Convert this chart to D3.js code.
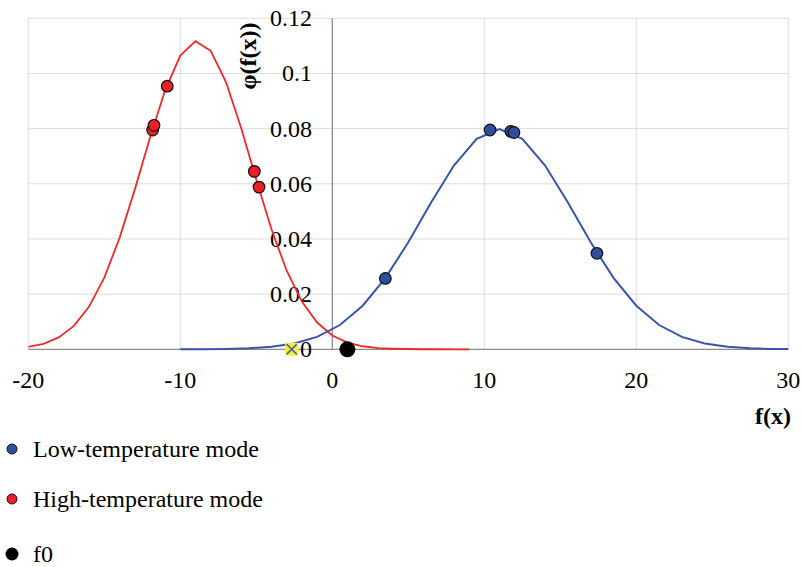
<!DOCTYPE html>
<html><head><meta charset="utf-8">
<script src="https://cdn.jsdelivr.net/npm/d3@7"></script>
<style>body{margin:0;background:#fff}svg{display:block}text{font-family:"Liberation Serif","Times New Roman",serif;fill:#000}</style>
</head><body><div id="chart"></div>
<script>
// ---- data ----
const xTicks = [-20, -10, 0, 10, 20, 30];
const yTicks = [0, 0.02, 0.04, 0.06, 0.08, 0.1, 0.12];
const yTickLabels = ["0", "0.02", "0.04", "0.06", "0.08", "0.1", "0.12"];

const highCurveX = [-20,-19,-18,-17,-16,-15,-14,-13,-12,-11,-10,-9,-8,-7,-6,-5,-4,-3,-2,-1,0,1,2,3,4,5,6,7,8,9];
const highCurveY = [0.0009,0.0020,0.0043,0.0085,0.0155,0.0260,0.0403,0.0578,0.0766,0.0939,0.1065,0.1117,0.1082,0.0970,0.0803,0.0615,0.0435,0.0285,0.0173,0.0097,0.0050,0.0024,0.0011,0.0004,0.0002,0.0001,0.00002,0.00001,0,0];

const lowCurveX = [-10,-8.5,-7,-5.5,-4,-2.5,-1,0.5,2,3.5,5,6.5,8,9.5,11,12.5,14,15.5,17,18.5,20,21.5,23,24.5,26,27.5,29,30.5];
const lowCurveY = [0.00001,0.00004,0.00012,0.00035,0.0009,0.0021,0.0045,0.0088,0.0158,0.0259,0.0388,0.0532,0.0666,0.0763,0.0798,0.0763,0.0666,0.0532,0.0388,0.0259,0.0158,0.0088,0.0045,0.0021,0.0009,0.00035,0.00012,0.00004];

const lowPtsX = [3.49, 10.38, 11.75, 11.95, 17.41];
const lowPtsY = [0.0257, 0.0795, 0.0790, 0.0786, 0.0348];
const highPtsX = [-10.86, -11.82, -11.73, -5.13, -4.82];
const highPtsY = [0.0954, 0.0795, 0.0812, 0.0645, 0.0588];
const f0X = [0.99];
const f0Y = [0];
const markX = [-2.67];
const markY = [0];

const legendLabels = ["Low-temperature mode", "High-temperature mode", "f0"];

// ---- layout ----
const W = 803, H = 567;
const pLeft = 28.3, pRight = 788.3, pTop = 18.3, pBottom = 349.3;
const blueLine = "#3a56a8", blueFill = "#2f4f9e";
const redLine = "#f02a2a", redFill = "#ea2026";

const svg = d3.select("#chart").append("svg").attr("width", W).attr("height", H);
const x = d3.scaleLinear().domain([-20, 30]).range([pLeft, pRight]);
const y = d3.scaleLinear().domain([0, 0.12]).range([pBottom, pTop]);

svg.append("defs").append("clipPath").attr("id", "clip")
  .append("rect").attr("x", pLeft).attr("y", pTop - 2).attr("width", pRight - pLeft).attr("height", pBottom - pTop + 4);

// gridlines
svg.append("g").selectAll("line").data(xTicks.filter(d => d !== 0)).join("line")
  .attr("x1", d => x(d)).attr("x2", d => x(d)).attr("y1", pTop).attr("y2", pBottom)
  .attr("stroke", "#dcdcdc").attr("stroke-width", 1);
svg.append("g").selectAll("line").data(yTicks.filter(d => d !== 0)).join("line")
  .attr("x1", pLeft).attr("x2", pRight).attr("y1", d => y(d)).attr("y2", d => y(d))
  .attr("stroke", "#dcdcdc").attr("stroke-width", 1);

// axes lines
svg.append("line").attr("x1", x(0)).attr("x2", x(0)).attr("y1", pTop).attr("y2", pBottom)
  .attr("stroke", "#8c8c8c").attr("stroke-width", 1.3);
svg.append("line").attr("x1", pLeft).attr("x2", pRight).attr("y1", y(0)).attr("y2", y(0))
  .attr("stroke", "#8c8c8c").attr("stroke-width", 1.3);

// tick labels
svg.append("g").selectAll("text").data(xTicks).join("text")
  .attr("x", d => x(d)).attr("y", 388).attr("text-anchor", "middle")
  .style("font-size", "24px").text(d => d);
svg.append("g").selectAll("text").data(yTicks).join("text")
  .attr("x", 312).attr("y", d => y(d) + 8).attr("text-anchor", "end")
  .style("font-size", "24px").text((d, i) => yTickLabels[i]);

// axis titles
svg.append("text").attr("transform", "translate(256,56) rotate(-90)")
  .attr("text-anchor", "middle").style("font-size", "24px").style("font-weight", "bold").text("φ(f(x))");
svg.append("text").attr("x", 791).attr("y", 424).attr("text-anchor", "end")
  .style("font-size", "24px").style("font-weight", "bold").text("f(x)");

// curves
const line = d3.line().x(d => x(d[0])).y(d => y(d[1]));
const plot = svg.append("g").attr("clip-path", "url(#clip)");
plot.append("path").datum(highCurveX.map((v, i) => [v, highCurveY[i]]))
  .attr("d", line).attr("fill", "none").attr("stroke", redLine).attr("stroke-width", 1.8);
plot.append("path").datum(lowCurveX.map((v, i) => [v, lowCurveY[i]]))
  .attr("d", line).attr("fill", "none").attr("stroke", blueLine).attr("stroke-width", 2);

// points
svg.append("g").selectAll("circle").data(highPtsX.map((v, i) => [v, highPtsY[i]])).join("circle")
  .attr("cx", d => x(d[0])).attr("cy", d => y(d[1])).attr("r", 5.8)
  .attr("fill", redFill).attr("stroke", "#111").attr("stroke-width", 1.2);
svg.append("g").selectAll("circle").data(lowPtsX.map((v, i) => [v, lowPtsY[i]])).join("circle")
  .attr("cx", d => x(d[0])).attr("cy", d => y(d[1])).attr("r", 5.8)
  .attr("fill", blueFill).attr("stroke", "#111").attr("stroke-width", 1.2);
svg.append("g").selectAll("circle").data(f0X.map((v, i) => [v, f0Y[i]])).join("circle")
  .attr("cx", d => x(d[0])).attr("cy", d => y(d[1])).attr("r", 8)
  .attr("fill", "#000");

// yellow x marker
const mk = svg.append("g").selectAll("g").data(markX.map((v, i) => [v, markY[i]])).join("g")
  .attr("transform", d => `translate(${x(d[0])},${y(d[1])})`);
mk.append("rect").attr("x", -6.5).attr("y", -6.5).attr("width", 13).attr("height", 13).attr("fill", "#f2ee3a");
mk.append("path").attr("d", "M-5,-5L5,5M-5,5L5,-5").attr("stroke", "#3a56a8").attr("stroke-width", 1.5);

// legend
const legColors = [blueFill, redFill, "#000"];
const legY = [449, 499, 554];
const leg = svg.append("g").selectAll("g").data(legendLabels).join("g");
leg.append("circle").attr("cx", 12).attr("cy", (d, i) => legY[i]).attr("r", (d, i) => i === 2 ? 6.5 : 5)
  .attr("fill", (d, i) => legColors[i]).attr("stroke", (d, i) => i === 2 ? "none" : "#111").attr("stroke-width", 1);
leg.append("text").attr("x", 33).attr("y", (d, i) => legY[i] + 8).style("font-size", "24px").text(d => d);
</script></body></html>
